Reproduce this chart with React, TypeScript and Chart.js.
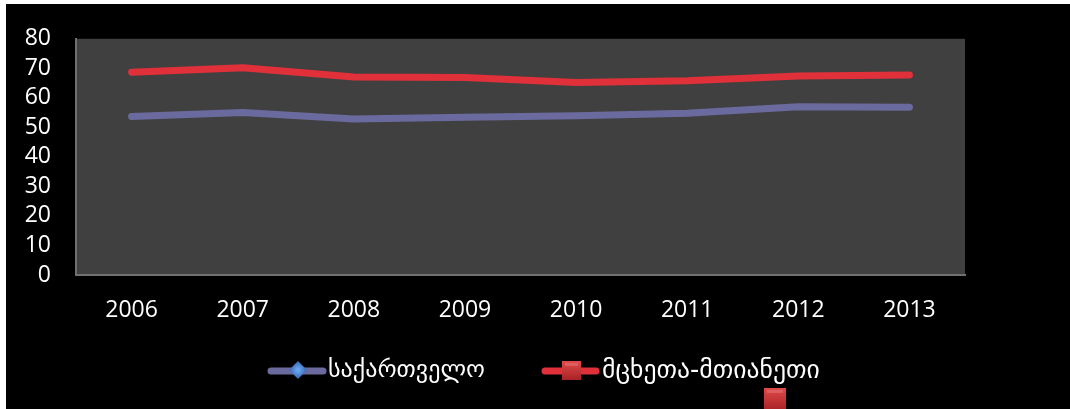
import React, { useEffect, useRef } from "react";
import { Chart, registerables } from "chart.js";

Chart.register(...registerables);

const years = ["2006", "2007", "2008", "2009", "2010", "2011", "2012", "2013"];
const georgia = [53.7, 55.0, 52.8, 53.4, 53.9, 54.8, 57.0, 56.8];
const mtskheta = [68.7, 70.2, 67.1, 66.9, 65.2, 65.8, 67.4, 67.7];
const seriesNames = ["საქართველო", "მცხეთა-მთიანეთი"];
const yMin = 0;
const yMax = 80;
const yStep = 10;

const BLUE = "#6a6a9e";
const RED = "#e0303a";
const TXT_FONT = "'Open Sans', 'DejaVu Sans', sans-serif";
const GEO_FONT = "'DejaVu Sans', sans-serif";

// target plot rectangle (layout)
const AREA = { left: 76, top: 33, right: 965, bottom: 275 };

const decorPlugin = {
  id: "decor",
  beforeDraw(chart: any) {
    const { ctx, chartArea } = chart;
    ctx.save();
    ctx.fillStyle = "#ffffff";
    ctx.fillRect(0, 0, chart.width, chart.height);
    ctx.fillStyle = "#000000";
    ctx.fillRect(6, 4, chart.width - 6, chart.height - 4);
    ctx.fillStyle = "#404040";
    ctx.fillRect(chartArea.left, chartArea.top, chartArea.right - chartArea.left, chartArea.bottom - chartArea.top);
    ctx.restore();
  },
  afterDraw(chart: any) {
    const { ctx } = chart;
    ctx.save();
    const y = 371;
    const drawLine = (x1: number, x2: number, color: string) => {
      ctx.strokeStyle = color;
      ctx.lineWidth = 7;
      ctx.lineCap = "round";
      ctx.beginPath();
      ctx.moveTo(x1, y);
      ctx.lineTo(x2, y);
      ctx.stroke();
    };
    drawLine(271, 323, BLUE);
    drawLine(545, 596, RED);
    const dx = 298, dy = 370;
    const g = ctx.createRadialGradient(dx, dy, 1, dx, dy, 10);
    g.addColorStop(0, "#6aa6f0");
    g.addColorStop(1, "#2f5fa8");
    ctx.fillStyle = g;
    ctx.beginPath();
    ctx.moveTo(dx, dy - 9);
    ctx.lineTo(dx + 9, dy);
    ctx.lineTo(dx, dy + 9);
    ctx.lineTo(dx - 9, dy);
    ctx.closePath();
    ctx.fill();
    const drawSquare = (x: number, yy: number, s: number) => {
      const gr = ctx.createLinearGradient(x, yy, x, yy + s);
      gr.addColorStop(0, "#e04a4a");
      gr.addColorStop(1, "#a82226");
      ctx.fillStyle = gr;
      ctx.fillRect(x, yy, s, s);
      ctx.fillStyle = "rgba(255,255,255,0.15)";
      ctx.fillRect(x + 3, yy + 2, s - 6, 3);
    };
    drawSquare(562, 361, 19);
    drawSquare(764, 388, 22);
    ctx.fillStyle = "#ffffff";
    ctx.textBaseline = "middle";
    ctx.textAlign = "left";
    const fitText = (t: string, x: number, w: number) => {
      let size = 24;
      ctx.font = `${size}px ${GEO_FONT}`;
      const m = ctx.measureText(t).width;
      size = size * (w / m);
      ctx.font = `${size}px ${GEO_FONT}`;
      ctx.fillText(t, x, y);
    };
    fitText(seriesNames[0], 328, 157);
    fitText(seriesNames[1], 602, 218);
    ctx.restore();
  },
};

export default function App() {
  const ref = useRef<HTMLCanvasElement | null>(null);
  useEffect(() => {
    if (!ref.current) return;
    const dims = { xHeight: 134, yWidth: 76 };
    const chart: any = new Chart(ref.current, {
      type: "line",
      data: {
        labels: years,
        datasets: [
          {
            label: seriesNames[0],
            data: georgia,
            borderColor: BLUE,
            borderWidth: 7,
            pointRadius: 0,
            borderCapStyle: "round",
            borderJoinStyle: "round",
            tension: 0,
          },
          {
            label: seriesNames[1],
            data: mtskheta,
            borderColor: RED,
            borderWidth: 7,
            pointRadius: 0,
            borderCapStyle: "round",
            borderJoinStyle: "round",
            tension: 0,
          },
        ],
      },
      options: {
        animation: false,
        responsive: false,
        maintainAspectRatio: false,
        layout: { padding: { left: 0, top: AREA.top, right: 1070 - AREA.right, bottom: 0 } },
        plugins: { legend: { display: false }, tooltip: { enabled: false } },
        scales: {
          x: {
            offset: true,
            grid: { display: false, drawTicks: false },
            border: { display: true, color: "#707070", width: 2 },
            ticks: { color: "#ffffff", font: { family: TXT_FONT, size: 23 }, padding: 22, maxRotation: 0, autoSkip: false },
            afterFit: (s: any) => { s.height = dims.xHeight; },
          },
          y: {
            min: yMin,
            max: yMax,
            grid: { display: false, drawTicks: false },
            border: { display: true, color: "#707070", width: 2 },
            ticks: { color: "#ffffff", stepSize: yStep, font: { family: TXT_FONT, size: 23 }, padding: 25, autoSkip: false },
            afterFit: (s: any) => { s.width = dims.yWidth; },
          },
        },
      },
      plugins: [decorPlugin],
    });
    // correct layout so the plot rectangle lands exactly on the target
    for (let i = 0; i < 3; i++) {
      const ca = chart.chartArea;
      const pad = chart.options.layout.padding;
      pad.top += AREA.top - ca.top;
      pad.right += ca.right - AREA.right;
      dims.xHeight += ca.bottom - AREA.bottom;
      dims.yWidth += AREA.left - ca.left;
      chart.update();
    }
    return () => chart.destroy();
  }, []);
  return (
    <div style={{ position: "fixed", left: 0, top: 0, width: 1070, height: 409 }}>
      <canvas ref={ref} width={1070} height={409} style={{ width: 1070, height: 409, display: "block" }} />
    </div>
  );
}
